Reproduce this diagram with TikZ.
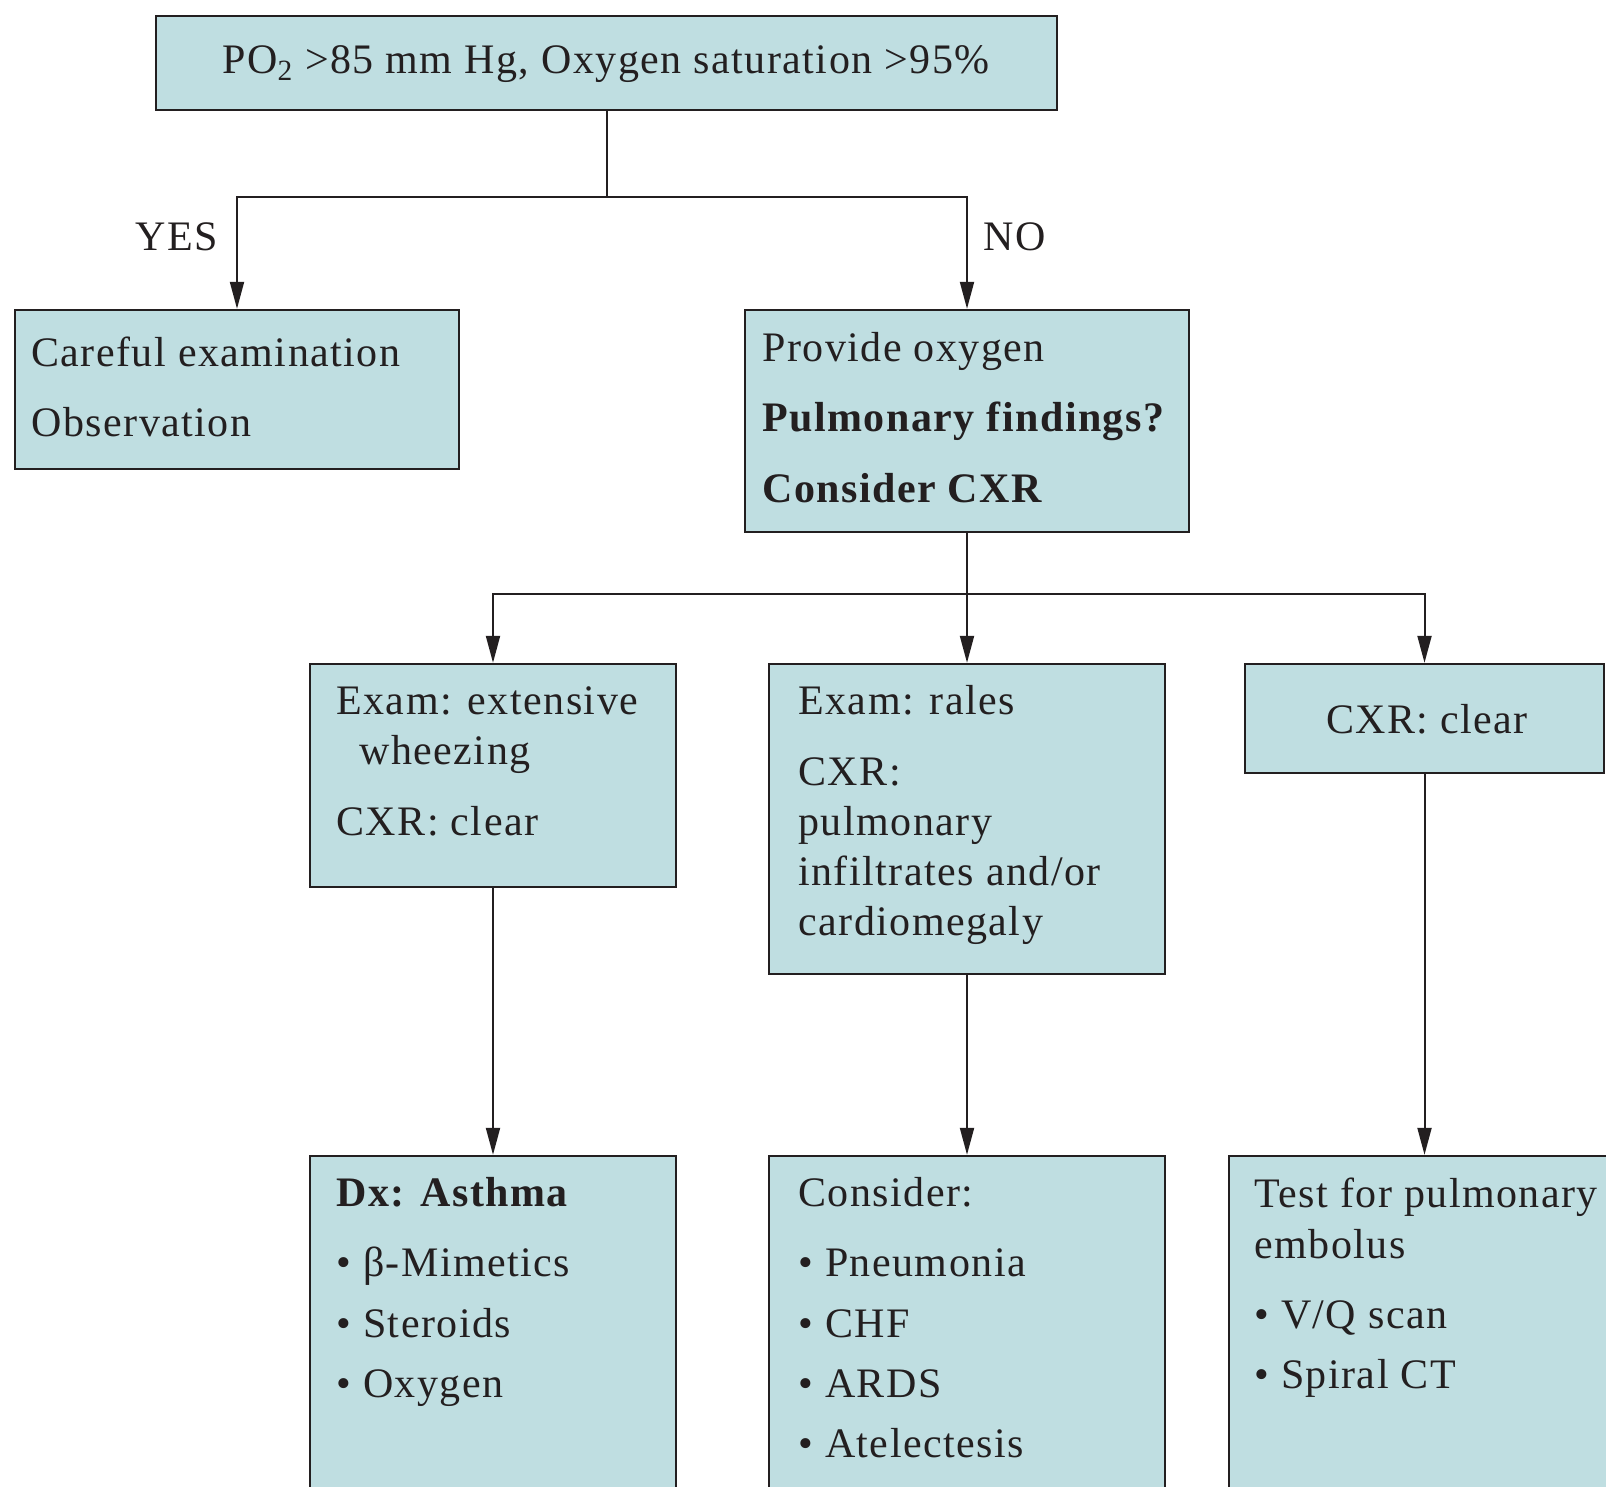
\documentclass[tikz,border=0pt]{standalone}
\usepackage{fontspec}
\setmainfont[LetterSpace=3.5]{Liberation Serif}
\usetikzlibrary{arrows.meta,fit}
\definecolor{boxfill}{RGB}{191,222,225}
\definecolor{ink}{RGB}{35,31,32}
\tikzset{
  box/.style={draw=ink, fill=boxfill, line width=1.2pt, inner sep=0pt},
  txt/.style={anchor=base west, inner sep=0pt, font=\fontsize{21}{25}\selectfont, text=ink},
  conn/.style={draw=ink, line width=1pt},
  arr/.style={conn, -{Triangle[length=13.5pt,width=7pt]}}
}
\begin{document}
\begin{tikzpicture}[x=0.5pt,y=-0.5pt]
\clip (0,0) rectangle (1606,1487);
\fill[white] (0,0) rectangle (1606,1487);
% boxes
\node[box, fit={(156,16) (1057,110)}] (top) {};
\node[box, fit={(15,310) (459,469)}] (careful) {};
\node[box, fit={(745,310) (1189,532)}] (provide) {};
\node[box, fit={(310,664) (676,887)}] (exA) {};
\node[box, fit={(769,664) (1165,974)}] (exB) {};
\node[box, fit={(1245,664) (1604,773)}] (exC) {};
\node[box, fit={(310,1156) (676,1530)}] (dxA) {};
\node[box, fit={(769,1156) (1165,1530)}] (dxB) {};
\node[box, fit={(1229,1156) (1650,1530)}] (dxC) {};
% texts
\node[txt, anchor=base] (ttop) at (606,74) {PO\textsubscript{2} >85 mm Hg, Oxygen saturation >95\%};
\node[txt, anchor=base east] (yes) at (218,251) {YES};
\node[txt] (no) at (983,251) {NO};
\node[txt] (c1) at (31,366) {Careful examination};
\node[txt] (c2) at (31,436) {Observation};
\node[txt] (p1) at (762,361) {Provide oxygen};
\node[txt, font=\fontsize{21}{25}\selectfont\bfseries] (p2) at (762,431) {Pulmonary findings?};
\node[txt, font=\fontsize{21}{25}\selectfont\bfseries] (p3) at (762,502) {Consider CXR};
\node[txt] (a1) at (336,714) {Exam: extensive};
\node[txt] (a2) at (359,764) {wheezing};
\node[txt] (a3) at (336,835) {CXR: clear};
\node[txt] (b1) at (798,714) {Exam: rales};
\node[txt] (b2) at (798,785) {CXR:};
\node[txt] (b3) at (798,835) {pulmonary};
\node[txt] (b4) at (798,885) {infiltrates and/or};
\node[txt] (b5) at (798,935) {cardiomegaly};
\node[txt, anchor=base] (cc1) at (1427,733) {CXR: clear};
\node[txt, font=\fontsize{21}{25}\selectfont\bfseries] (d1) at (336,1206) {Dx: Asthma};
\node[txt] (d2) at (336,1276) {• β-Mimetics};
\node[txt] (d3) at (336,1337) {• Steroids};
\node[txt] (d4) at (336,1397) {• Oxygen};
\node[txt] (e1) at (798,1206) {Consider:};
\node[txt] (e2) at (798,1276) {• Pneumonia};
\node[txt] (e3) at (798,1337) {• CHF};
\node[txt] (e4) at (798,1397) {• ARDS};
\node[txt] (e5) at (798,1457) {• Atelectesis};
\node[txt] (f1) at (1254,1207) {Test for pulmonary};
\node[txt] (f2) at (1254,1258) {embolus};
\node[txt] (f3) at (1254,1328) {• V/Q scan};
\node[txt] (f4) at (1254,1388) {• Spiral CT};
% connectors
\coordinate (j1) at (607,197);
\coordinate (j2) at (967,594);
\draw[conn] (top.south -| j1) -- (j1);
\draw[arr] (j1) -| (careful.north);
\draw[arr] (j1) -| (provide.north);
\draw[conn] (provide.south) -- (j2);
\draw[arr] (j2) -| (exA.north);
\draw[arr] (j2) -- (exB.north);
\draw[arr] (j2) -| (exC.north);
\draw[arr] (exA.south) -- (dxA.north);
\draw[arr] (exB.south) -- (dxB.north);
\draw[arr] (exC.south) -- (exC.south |- dxC.north);
\end{tikzpicture}
\end{document}
